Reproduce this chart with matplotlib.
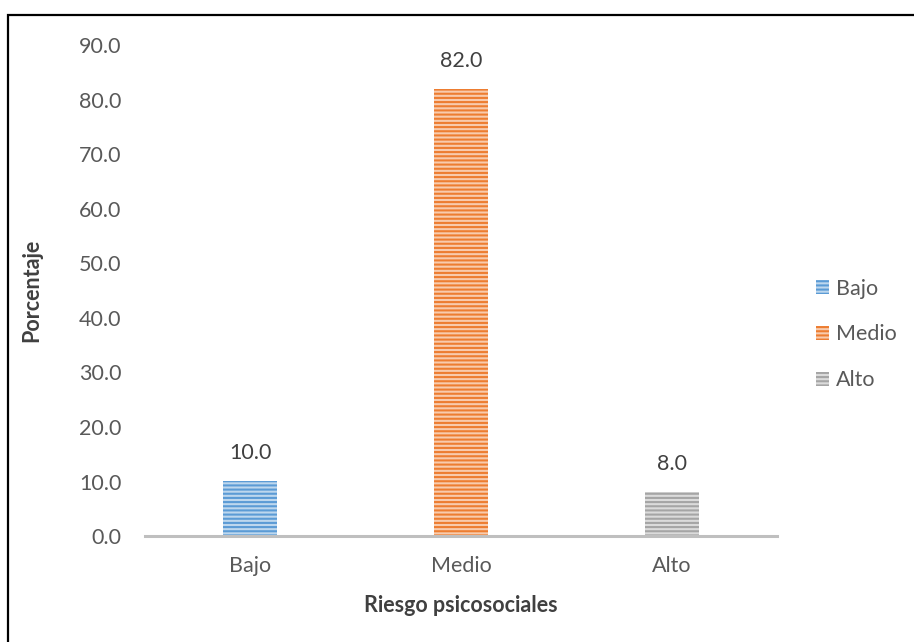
import matplotlib.pyplot as plt
from matplotlib.patches import Rectangle, Patch

categories = ["Bajo", "Medio", "Alto"]
values = [10.0, 82.0, 8.0]
face_colors = ["#BDD7EE", "#F8CBAD", "#DBDBDB"]
stripe_colors = ["#5B9BD5", "#ED7D31", "#A5A5A5"]
y_ticks = [0, 10, 20, 30, 40, 50, 60, 70, 80, 90]

plt.rcParams["font.family"] = ["Lato", "DejaVu Sans"]
plt.rcParams["hatch.linewidth"] = 1.5

fig = plt.figure(figsize=(9.14, 6.42), dpi=100)
ax = fig.add_axes([0.1586, 0.165, 0.6915, 0.765])

x = range(len(categories))
for i, (v, fc, sc) in enumerate(zip(values, face_colors, stripe_colors)):
    ax.bar(i, v, width=0.256, color=fc, edgecolor=sc, hatch="----", linewidth=0,
           label=categories[i])
    ax.text(i, v + 3.3, f"{v:.1f}", ha="center", va="bottom", fontsize=15.5, color="#404040")

ax.set_xlim(-0.5, 2.5)
ax.set_ylim(0, 90)
ax.set_yticks(y_ticks)
ax.set_yticklabels([f"{t:.1f}" for t in y_ticks], fontsize=15.5, color="#595959")
ax.set_xticks(list(x))
ax.set_xticklabels(categories, fontsize=15.5, color="#595959")
ax.tick_params(axis="both", length=0)
ax.tick_params(axis="y", pad=17)
ax.tick_params(axis="x", pad=14)

for s in ["top", "right", "left"]:
    ax.spines[s].set_visible(False)
ax.spines["bottom"].set_color("#BFBFBF")
ax.spines["bottom"].set_linewidth(2.2)

ax.set_ylabel("Porcentaje", fontsize=15.5, fontweight="bold", color="#404040", labelpad=26)
ax.set_xlabel("Riesgo psicosociales", fontsize=15.5, fontweight="bold", color="#404040", labelpad=14)

handles = [Patch(facecolor=fc, edgecolor=sc, hatch="----", linewidth=0)
           for fc, sc in zip(face_colors, stripe_colors)]
leg = fig.legend(handles, categories, loc="center left", bbox_to_anchor=(0.893, 0.479),
                 frameon=False, fontsize=15.5, handlelength=0.6, handleheight=0.6,
                 handletextpad=0.3, labelspacing=1.2, borderaxespad=0, borderpad=0)
for t in leg.get_texts():
    t.set_color("#595959")

fig.patches.append(Rectangle((8 / 914, -0.1), 1.2, 1 - 15 / 642 + 0.1, transform=fig.transFigure,
                             fill=False, edgecolor="black", linewidth=1.6))

fig.savefig("out.png", dpi=100)
